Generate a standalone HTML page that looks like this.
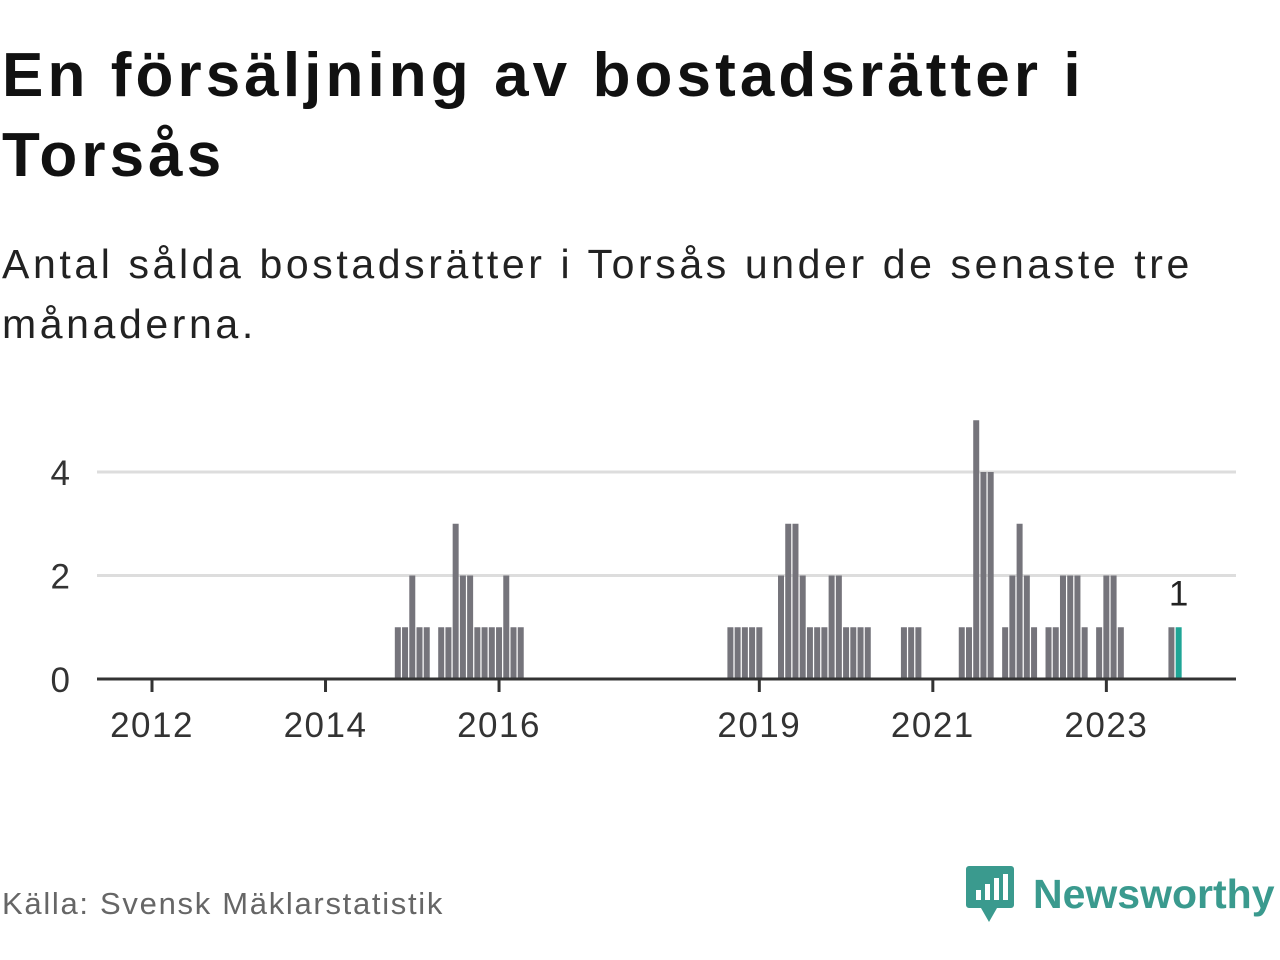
<!DOCTYPE html>
<html><head><meta charset="utf-8"><style>
body{margin:0;width:1280px;height:960px;background:#fff;font-family:"Liberation Sans",sans-serif;overflow:hidden;position:relative}
h1{position:absolute;left:2px;top:36px;margin:0;font-size:62px;line-height:80px;font-weight:bold;color:#111;letter-spacing:4.1px}
.sub{position:absolute;left:2px;top:234px;margin:0;font-size:41px;line-height:60px;color:#222;letter-spacing:3.6px}
.src{position:absolute;left:2px;top:886px;font-size:31px;color:#666;letter-spacing:1.7px}
.logo{position:absolute;left:965px;top:864px;display:flex;align-items:center}
.logo span{font-size:41px;font-weight:bold;color:#3a9a8e;margin-left:18px}
</style></head><body>
<h1>En försäljning av bostadsrätter i<br>Torsås</h1>
<p class="sub">Antal sålda bostadsrätter i Torsås under de senaste tre<br>månaderna.</p>
<svg id="chart" width="1280" height="960" style="position:absolute;left:0;top:0"></svg>
<div class="src">Källa: Svensk Mäklarstatistik</div>
<div class="logo">
<svg width="50" height="60" viewBox="0 0 50 60"><path d="M4 2h42a3 3 0 0 1 3 3v36a3 3 0 0 1-3 3H32l-8 14-8-14H4a3 3 0 0 1-3-3V5a3 3 0 0 1 3-3z" fill="#3a9a8e"/><rect x="11" y="26" width="5" height="10" fill="#fff"/><rect x="20" y="20" width="5" height="16" fill="#fff"/><rect x="29" y="14" width="5" height="22" fill="#fff"/><rect x="38" y="10" width="5" height="26" fill="#fff"/></svg>
<span>Newsworthy</span></div>
<script>
const startYear = 2012;
const values = [0,0,0,0,0,0,0,0,0,0,0,0, 0,0,0,0,0,0,0,0,0,0,0,0, 0,0,0,0,0,0,0,0,0,0,1,1,
 2,1,1,0,1,1,3,2,2,1,1,1, 1,2,1,1,0,0,0,0,0,0,0,0, 0,0,0,0,0,0,0,0,0,0,0,0,
 0,0,0,0,0,0,0,0,1,1,1,1, 1,0,0,2,3,3,2,1,1,1,2,2, 1,1,1,1,0,0,0,0,1,1,1,0,
 0,0,0,0,1,1,5,4,4,0,1,2, 3,2,1,0,1,1,2,2,2,1,0,1, 2,2,1,0,0,0,0,0,0,1,1];
const yTicks = [0,2,4];
const xTickYears = [2012,2014,2016,2019,2021,2023];
const ns="http://www.w3.org/2000/svg", svg=document.getElementById('chart');
const x = m => 152 + m*7.23;
const y = v => 679 - v*51.75;
function mk(t,a){const e=document.createElementNS(ns,t);for(const k in a)e.setAttribute(k,a[k]);svg.appendChild(e);return e;}
yTicks.forEach(v=>{
  if(v>0){const g=mk('line',{x1:97,x2:1236,y1:y(v),y2:y(v),stroke:'#ddd','stroke-width':3});
  
  }
  const t=mk('text',{x:70,y:y(v)+13,'text-anchor':'end','font-size':35,fill:'#333','font-family':'Liberation Sans'});
  t.textContent=v;
  
  
});
values.forEach((v,i)=>{
  if(!v)return;
  const last=i===values.length-1;
  const r=mk('rect',{x:x(i)-3,y:y(v),width:6,height:y(0)-y(v),fill:last?'#1fa596':'#75747b'});
  
  
  if(last){const t=mk('text',{x:x(i),y:y(v)-22,'text-anchor':'middle','font-size':35,fill:'#222','font-family':'Liberation Sans'});t.textContent=v;
  
  }
});
const ax=mk('line',{x1:97,x2:1236,y1:679,y2:679,stroke:'#333','stroke-width':3});


xTickYears.forEach(yr=>{
  const px=x((yr-startYear)*12);
  const tk=mk('line',{x1:px,x2:px,y1:679,y2:692,stroke:'#333','stroke-width':3});
  
  
  const t=mk('text',{x:px,y:737,'text-anchor':'middle','font-size':35,fill:'#333','font-family':'Liberation Sans','letter-spacing':1.5});
  t.textContent=yr;
  
  
});
</script>
</body></html>
